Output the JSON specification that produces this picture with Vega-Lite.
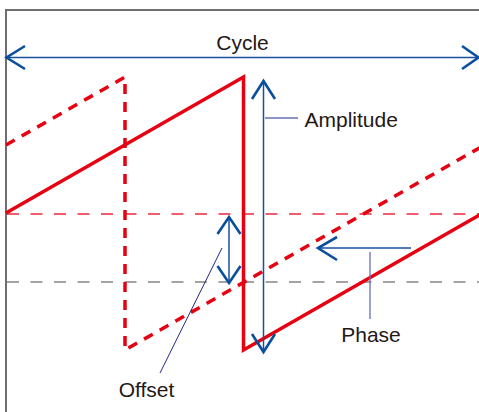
{
  "$schema": "https://vega.github.io/schema/vega-lite/v6.json",
  "width": 479,
  "height": 412,
  "padding": 0,
  "autosize": {"type": "none"},
  "background": "white",
  "config": {"view": {"stroke": null}},
  "data": {"values": [
    {"g": "frame", "x": 479, "y": 10, "o": 1},
    {"g": "frame", "x": 6, "y": 10, "o": 2},
    {"g": "frame", "x": 6, "y": 412, "o": 3},
    {"g": "refRed", "x": 7, "y": 214, "o": 1},
    {"g": "refRed", "x": 479, "y": 214, "o": 2},
    {"g": "refGray", "x": 7, "y": 282, "o": 1},
    {"g": "refGray", "x": 479, "y": 282, "o": 2},
    {"g": "waveSolid", "x": 6, "y": 213, "o": 1},
    {"g": "waveSolid", "x": 243.5, "y": 77, "o": 2},
    {"g": "waveSolid", "x": 243.5, "y": 350, "o": 3},
    {"g": "waveSolid", "x": 481, "y": 214, "o": 4},
    {"g": "waveDash", "x": 6, "y": 145, "o": 1},
    {"g": "waveDash", "x": 125, "y": 77, "o": 2},
    {"g": "waveDash", "x": 125, "y": 350, "o": 3},
    {"g": "waveDash", "x": 481, "y": 147, "o": 4},
    {"g": "shaft", "id": "cycle", "x": 6, "y": 57.5, "o": 1},
    {"g": "shaft", "id": "cycle", "x": 479, "y": 57.5, "o": 2},
    {"g": "shaft", "id": "amp", "x": 263.5, "y": 81, "o": 1},
    {"g": "shaft", "id": "amp", "x": 263.5, "y": 351, "o": 2},
    {"g": "shaft", "id": "off", "x": 229, "y": 217, "o": 1},
    {"g": "shaft", "id": "off", "x": 229, "y": 283, "o": 2},
    {"g": "shaft", "id": "phase", "x": 318, "y": 248, "o": 1},
    {"g": "shaft", "id": "phase", "x": 411, "y": 248, "o": 2},
    {"g": "head", "id": "cL", "x": 25, "y": 46, "o": 1},
    {"g": "head", "id": "cL", "x": 6.5, "y": 57.5, "o": 2},
    {"g": "head", "id": "cL", "x": 25, "y": 69, "o": 3},
    {"g": "head", "id": "cR", "x": 462, "y": 46, "o": 1},
    {"g": "head", "id": "cR", "x": 478.5, "y": 57.5, "o": 2},
    {"g": "head", "id": "cR", "x": 462, "y": 69, "o": 3},
    {"g": "head", "id": "aT", "x": 252, "y": 99, "o": 1},
    {"g": "head", "id": "aT", "x": 263.5, "y": 81, "o": 2},
    {"g": "head", "id": "aT", "x": 275, "y": 99, "o": 3},
    {"g": "head", "id": "aB", "x": 252, "y": 334, "o": 1},
    {"g": "head", "id": "aB", "x": 263.5, "y": 352, "o": 2},
    {"g": "head", "id": "aB", "x": 275, "y": 334, "o": 3},
    {"g": "head", "id": "oT", "x": 217.5, "y": 234, "o": 1},
    {"g": "head", "id": "oT", "x": 229, "y": 217, "o": 2},
    {"g": "head", "id": "oT", "x": 240.5, "y": 234, "o": 3},
    {"g": "head", "id": "oB", "x": 217.5, "y": 266, "o": 1},
    {"g": "head", "id": "oB", "x": 229, "y": 283, "o": 2},
    {"g": "head", "id": "oB", "x": 240.5, "y": 266, "o": 3},
    {"g": "head", "id": "pL", "x": 337, "y": 237, "o": 1},
    {"g": "head", "id": "pL", "x": 318, "y": 248, "o": 2},
    {"g": "head", "id": "pL", "x": 337, "y": 260, "o": 3},
    {"g": "leader", "id": "amp", "x": 265, "y": 118, "o": 1},
    {"g": "leader", "id": "amp", "x": 298, "y": 118, "o": 2},
    {"g": "leader", "id": "phase", "x": 370, "y": 252, "o": 1},
    {"g": "leader", "id": "phase", "x": 370, "y": 319, "o": 2},
    {"g": "leaderDark", "id": "off", "x": 222, "y": 248, "o": 1},
    {"g": "leaderDark", "id": "off", "x": 160, "y": 373, "o": 2},
    {"g": "labelC", "id": "Cycle", "x": 242.5, "y": 50},
    {"g": "labelL", "id": "Amplitude", "x": 304.5, "y": 126.5},
    {"g": "labelC", "id": "Offset", "x": 146.5, "y": 396.5},
    {"g": "labelC", "id": "Phase", "x": 371, "y": 342}
  ]},
  "encoding": {
    "x": {"field": "x", "type": "quantitative", "scale": {"domain": [0, 479], "nice": false, "zero": false}, "axis": null},
    "y": {"field": "y", "type": "quantitative", "scale": {"domain": [0, 412], "nice": false, "zero": false, "reverse": true}, "axis": null}
  },
  "layer": [
    {"transform": [{"filter": "datum.g === 'frame'"}], "mark": {"type": "line", "color": "#6e6e6e", "strokeWidth": 2}, "encoding": {"order": {"field": "o"}}},
    {"transform": [{"filter": "datum.g === 'refRed'"}], "mark": {"type": "line", "color": "#e8283c", "strokeWidth": 1.6, "strokeDash": [12, 11.5]}, "encoding": {"order": {"field": "o"}}},
    {"transform": [{"filter": "datum.g === 'refGray'"}], "mark": {"type": "line", "color": "#858585", "strokeWidth": 1.6, "strokeDash": [12, 11.5]}, "encoding": {"order": {"field": "o"}}},
    {"transform": [{"filter": "datum.g === 'waveDash'"}], "mark": {"type": "line", "color": "#e60012", "strokeWidth": 3.5, "strokeDash": [10, 8], "clip": true}, "encoding": {"order": {"field": "o"}}},
    {"transform": [{"filter": "datum.g === 'waveSolid'"}], "mark": {"type": "line", "color": "#e60012", "strokeWidth": 3.5, "clip": true}, "encoding": {"order": {"field": "o"}}},
    {"transform": [{"filter": "datum.g === 'leader'"}], "mark": {"type": "line", "color": "#6670b4", "strokeWidth": 1.3}, "encoding": {"order": {"field": "o"}, "detail": {"field": "id"}}},
    {"transform": [{"filter": "datum.g === 'leaderDark'"}], "mark": {"type": "line", "color": "#25288a", "strokeWidth": 1}, "encoding": {"order": {"field": "o"}, "detail": {"field": "id"}}},
    {"transform": [{"filter": "datum.g === 'shaft'"}], "mark": {"type": "line", "color": "#1a4f9c", "strokeWidth": 1.5}, "encoding": {"order": {"field": "o"}, "detail": {"field": "id"}}},
    {"transform": [{"filter": "datum.g === 'head'"}], "mark": {"type": "line", "color": "#0a4f9e", "strokeWidth": 2.6, "strokeJoin": "miter"}, "encoding": {"order": {"field": "o"}, "detail": {"field": "id"}}},
    {"transform": [{"filter": "datum.g === 'labelC'"}], "mark": {"type": "text", "font": "Liberation Sans", "fontSize": 21, "color": "#231815", "baseline": "alphabetic", "align": "center"}, "encoding": {"text": {"field": "id"}}},
    {"transform": [{"filter": "datum.g === 'labelL'"}], "mark": {"type": "text", "font": "Liberation Sans", "fontSize": 21, "color": "#231815", "baseline": "alphabetic", "align": "left"}, "encoding": {"text": {"field": "id"}}}
  ]
}
